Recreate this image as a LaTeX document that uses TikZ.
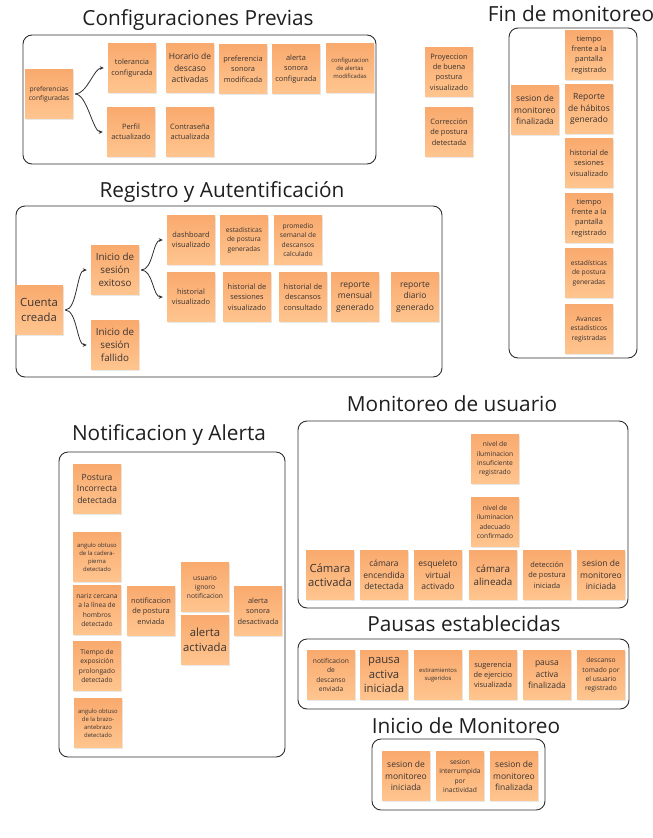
\documentclass[tikz,border=0pt]{standalone}
\usepackage{fontspec}
\setmainfont{Open Sans}
\usetikzlibrary{arrows.meta,shadows}

% Colors of the sticky notes and frames
\definecolor{notetop}{HTML}{F9AA6E}
\definecolor{notebot}{HTML}{FFC58F}
\definecolor{notetext}{HTML}{3A3330}
\definecolor{framecol}{HTML}{2E2E2E}

\tikzset{
  note/.style={rectangle, minimum width=48pt, minimum height=49pt, inner sep=1pt,
    align=center, top color=notetop, bottom color=notebot, text=notetext,
    drop shadow={opacity=0.18, shadow xshift=1pt, shadow yshift=-1.5pt}},
  ftxs/.style={font=\fontsize{5.9}{8}\selectfont},
  ftsm/.style={font=\fontsize{6.7}{9.4}\selectfont},
  ftmd/.style={font=\fontsize{7.4}{10.3}\selectfont},
  ftlg/.style={font=\fontsize{8.5}{11.3}\selectfont},
  ftxl/.style={font=\fontsize{9.8}{13}\selectfont},
  ftxxl/.style={font=\fontsize{11.3}{14.5}\selectfont},
  title/.style={font=\fontsize{20.8}{24}\selectfont, text=black!88, inner sep=0pt},
  frame/.style={draw=framecol, line width=0.9pt, rounded corners=9pt},
  flow/.style={draw=framecol, line width=0.8pt, shorten <=2pt, shorten >=4pt,
    -{Stealth[length=4pt,width=3.6pt]}}
}

\begin{document}
\begin{tikzpicture}[x=1pt, y=-1pt]
\useasboundingbox (0,0) rectangle (653,838);

% Configuraciones Previas
\node[title] (tconf) at (198,20) {Configuraciones Previas};
\draw[frame] (23,35) rectangle (376,164);
\node[note, ftsm] (pref) at (49,94) {preferencias\\configuradas};
\node[note, ftmd] (tol) at (132,68) {tolerancia\\configurada};
\node[note, ftlg] (horario) at (190,68) {Horario de\\descaso\\activadas};
\node[note, ftmd] (prefson) at (243,69) {preferencia\\sonora\\modificada};
\node[note, ftmd] (alson) at (296,69) {alerta\\sonora\\configurada};
\node[note, ftxs] (confal) at (350,68) {configuracion\\de alertas\\modificadas};
\node[note, ftmd] (perfil) at (131,132) {Perfil\\actualizado};
\node[note, ftmd] (contra) at (190,132) {Contraseña\\actualizada};
\draw[flow] (pref.east) .. controls +(14,0) and +(-14,0) .. (tol.west);
\draw[flow] (pref.east) .. controls +(14,0) and +(-14,0) .. (perfil.west);

% Notas sueltas
\node[note, ftmd] (proy) at (449,72) {Proyeccion\\de buena\\postura\\visualizado};
\node[note, ftmd] (correc) at (449,132) {Corrección\\de postura\\detectada};

% Fin de monitoreo
\node[title] (tfin) at (571,14) {Fin de monitoreo};
\draw[frame] (509,28) rectangle (637,358);
\node[note, ftmd] (tiempoA) at (589,55) {tiempo\\frente a la\\pantalla\\registrado};
\node[note, ftlg] (sesfin) at (535,110) {sesion de\\monitoreo\\finalizada};
\node[note, ftlg] (reporte) at (589,109) {Reporte\\de hábitos\\generado};
\node[note, ftmd] (histses) at (589,163) {historial de\\sesiones\\visualizado};
\node[note, ftmd] (tiempoB) at (589,218) {tiempo\\frente a la\\pantalla\\registrado};
\node[note, ftsm] (estfin) at (589,273) {estadísticas\\de postura\\generadas};
\node[note, ftsm] (avances) at (589,329) {Avances\\estadisticos\\registradas};

% Registro y Autentificacion
\node[title] (treg) at (222,192) {Registro y Autentificación};
\draw[frame] (16,206) rectangle (442,377);
\node[note, ftxxl] (cuenta) at (39,310) {Cuenta\\creada};
\node[note, ftxl] (exito) at (115,270) {Inicio de\\sesión\\exitoso};
\node[note, ftxl] (fallido) at (115,345) {Inicio de\\sesión\\fallido};
\node[note, ftmd] (dash) at (191,240) {dashboard\\visualizado};
\node[note, ftmd] (hist) at (191,297) {historial\\visualizado};
\node[note, ftsm] (estreg) at (244,240) {estadisticas\\de postura\\generadas};
\node[note, ftsm] (prom) at (298,240) {promedio\\semanal de\\descansos\\calculado};
\node[note, ftmd] (histsess) at (247,297) {historial de\\sessiones\\visualizado};
\node[note, ftmd] (histdesc) at (303,297) {historial de\\descansos\\consultado};
\node[note, ftlg] (mensual) at (355,297) {reporte\\mensual\\generado};
\node[note, ftlg] (diario) at (415,297) {reporte\\diario\\generado};
\draw[flow] (cuenta.east) .. controls +(14,0) and +(-14,0) .. (exito.west);
\draw[flow] (cuenta.east) .. controls +(14,0) and +(-14,0) .. (fallido.west);
\draw[flow] (exito.east) .. controls +(14,0) and +(-14,0) .. (dash.west);
\draw[flow] (exito.east) .. controls +(14,0) and +(-14,0) .. (hist.west);

% Notificacion y Alerta
\node[title] (tnot) at (169,435) {Notificacion y Alerta};
\draw[frame] (59,452) rectangle (285,757);
\node[note, ftlg] (postinc) at (97,489) {Postura\\Incorrecta\\detectada};
\node[note, ftxs] (cadera) at (97,557) {angulo obtuso\\de la cadera-\\pierna\\detectado};
\node[note, ftsm] (nariz) at (97,610) {nariz cercana\\a la línea de\\hombros\\detectado};
\node[note, ftsm] (expos) at (97,666) {Tiempo de\\exposición\\prolongado\\detectado};
\node[note, ftxs] (brazo) at (98,723) {angulo obtuso\\de la brazo-\\antebrazo\\detectado};
\node[note, ftmd] (notif) at (151,611) {notificacion\\de postura\\enviada};
\node[note, ftsm] (ignoro) at (205,587) {usuario\\ignoro\\notificacion};
\node[note, ftxxl] (alact) at (205,640) {alerta\\activada};
\node[note, ftmd] (aldes) at (258,611) {alerta\\sonora\\desactivada};

% Monitoreo de usuario
\node[title] (tmon) at (452,404) {Monitoreo de usuario};
\draw[frame] (298,421) rectangle (628,608);
\node[note, ftsm] (iluminsuf) at (495,459) {nivel de\\iluminacion\\insuficiente\\registrado};
\node[note, ftsm] (ilumade) at (495,522) {nivel de\\iluminacion\\adecuado\\confirmado};
\node[note, ftxxl] (camact) at (330,575) {Cámara\\activada};
\node[note, ftlg] (camenc) at (384,575) {cámara\\encendida\\detectada};
\node[note, ftlg] (esqueleto) at (438,575) {esqueleto\\virtual\\activado};
\node[note, ftxl] (camali) at (493,575) {cámara\\alineada};
\node[note, ftmd] (detpost) at (547,575) {detección\\de postura\\iniciada};
\node[note, ftlg] (sesini) at (601,575) {sesion de\\monitoreo\\iniciada};

% Pausas establecidas
\node[title] (tpau) at (464,624) {Pausas establecidas};
\draw[frame] (298,639) rectangle (629,709);
\node[note, ftsm] (notdesc) at (331,675) {notificacion\\de\\descanso\\enviada};
\node[note, ftxxl] (pausaini) at (384,675) {pausa\\activa\\iniciada};
\node[note, ftxs] (estira) at (438,675) {estiramientos\\sugeridos};
\node[note, ftmd] (sugej) at (493,675) {sugerencia\\de ejercicio\\visualizada};
\node[note, ftlg] (pausafin) at (547,675) {pausa\\activa\\finalizada};
\node[note, ftsm] (desctom) at (601,675) {descanso\\tomado por\\el usuario\\registrado};

% Inicio de Monitoreo
\node[title] (tini) at (466,726) {Inicio de Monitoreo};
\draw[frame] (372,739) rectangle (545,810);
\node[note, ftlg] (iniA) at (406,776) {sesion de\\monitoreo\\iniciada};
\node[note, ftsm] (interr) at (460,776) {sesion\\interrumpida\\por\\inactividad};
\node[note, ftlg] (iniB) at (514,776) {sesion de\\monitoreo\\finalizada};

\end{tikzpicture}
\end{document}
